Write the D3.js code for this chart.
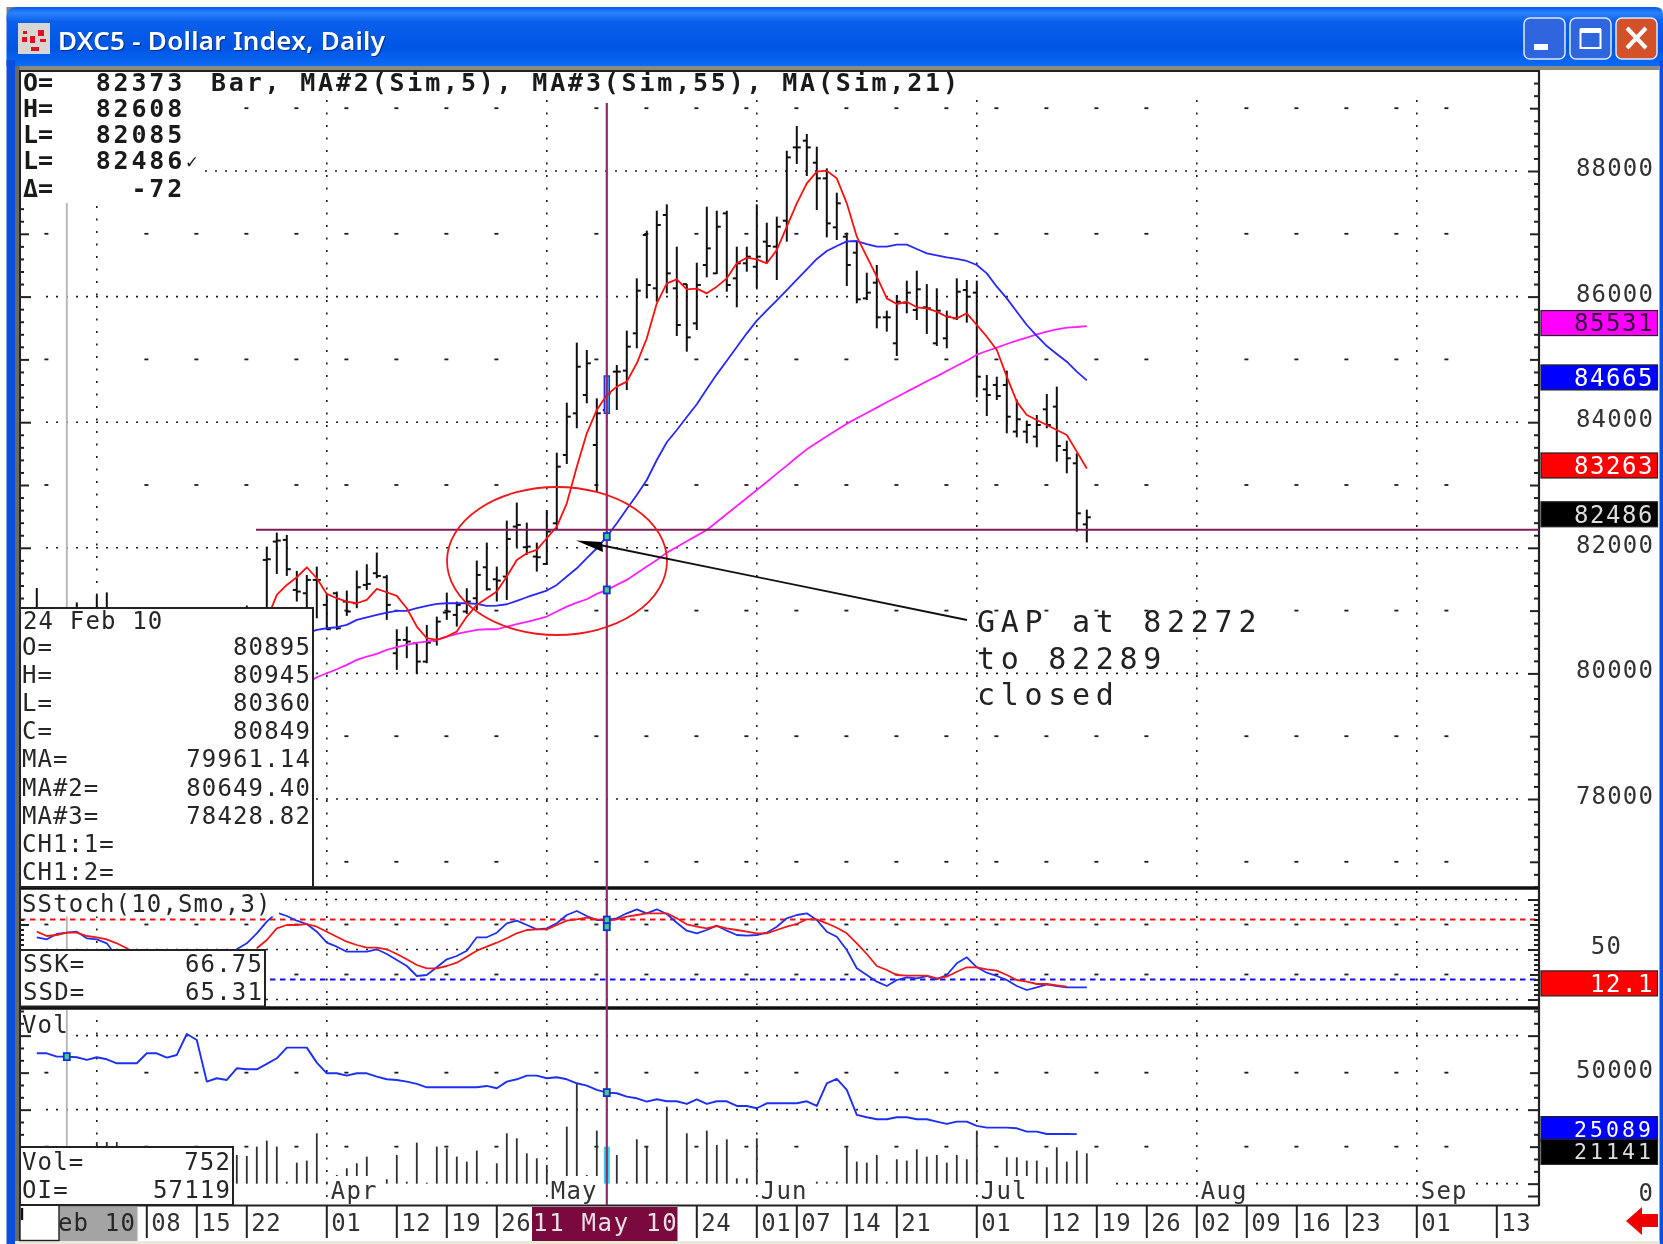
<!DOCTYPE html>
<html>
<head>
<meta charset="utf-8">
<title>DXC5 - Dollar Index, Daily</title>
<script src="https://cdn.jsdelivr.net/npm/d3@7"></script>
<style>
	html, body { margin: 0; padding: 0; background: #fff; }
	svg { display: block; filter: blur(0.45px); }
</style>
</head>
<body>
<div id="chart"></div>
<script>
// bars are numbered by trading day, day 0 is the first one on screen
var earlyDays = [0, 4, 6, 7, 21];
var earlyHigh = [81360, 81130, 81250, 81290, 81080];
var earlyLow = [80800, 80800, 80800, 80800, 80800];

// the rest of the bars start at day 23
var firstBarDay = 23;
var barHigh = [82019, 82242, 82205, 81632, 81568, 81701, 81276, 81303, 81319, 81637, 81738, 81924, 81568, 80703, 80746, 80480, 80772, 80905, 81287, 81144, 81356, 81797, 82083, 81701, 82433, 82720, 82401, 82083,
	82602, 83515, 84311, 85267, 85150, 84380, 84736, 84911, 85458, 86291, 87050, 87368, 87469, 86795, 86199, 86540, 87432, 87368, 87368, 86795, 86795, 87469, 87177, 87273, 88323, 88716, 88589, 88387, 88042, 87655, 87018, 86875, 86381, 86503, 85776, 86025, 86254, 86413, 86199, 86132, 85776, 86291, 86264, 86254, 84752, 84725, 84821, 84364, 84025, 84115, 84449, 84566, 83706, 83505, 82608];
var barLow = [80852, 81584, 81552, 81144, 80958, 80878, 80693, 80693, 80916, 81038, 81329, 81515, 80852, 80056, 80242, 79992, 80162, 80443, 80852, 80746, 80947, 81011, 81319, 81144, 81170, 82009, 81887, 81621,
	81727, 82284, 83335, 83903, 84301, 82894, 84141, 84195, 84513, 85176, 85972, 85919, 86052, 85373, 85123, 85468, 86307, 86360, 86078, 85829, 86397, 86132, 86530, 86264, 86875, 88111, 87920, 87379, 86943, 86901, 86169, 85893, 85946, 85495, 85442, 85054, 85734, 85627, 85405, 85214, 85176, 85627, 85585, 84396, 84099, 84354, 83823, 83759, 83664, 83600, 83903, 83372, 83186, 82257, 82085];
var barOpen = [81807, 82099, 82126, 81329, 81276, 81489, 81091, 81276, 81144, 81117, 81409, 81595, 81531, 80321, 80533, 80480, 80188, 80523, 80969, 80931, 80985, 81197, 81690, 81499, 81542, 82338, 82009, 81860,
	81743, 82390, 83478, 84141, 84433, 83637, 84195, 84805, 84821, 85415, 86981, 86132, 87299, 86132, 86199, 85574, 86503, 86370, 87326, 86291, 86530, 86476, 86875, 86795, 87209, 88376, 88483, 88132, 87883, 87103, 86954, 86699, 85972, 86222, 85670, 85256, 85903, 85787, 85829, 85256, 85336, 85654, 86105, 86063, 84524, 84593, 84593, 83850, 83850, 83770, 84205, 84248, 83558, 83345, 82373];
var barClose = [81818, 82115, 81659, 81303, 81489, 81489, 80703, 80719, 80985, 81372, 81425, 81552, 81091, 80533, 80507, 80188, 80491, 80825, 80985, 81091, 81144, 81568, 81340, 81478, 82141, 82364, 82019, 81850,
	82258, 83292, 84088, 84884, 84938, 84141, 84460, 84805, 85203, 86094, 86185, 87140, 86370, 85548, 85351, 86185, 86768, 87113, 86185, 86530, 86636, 86636, 86806, 87113, 88217, 88376, 88376, 87883, 87166, 87485, 86503, 85956, 86063, 85670, 85670, 85919, 86063, 86116, 85813, 85776, 85680, 86078, 85999, 84725, 84433, 84417, 84088, 84046, 83956, 83956, 83956, 83621, 83425, 82549, 82486];

var ma5 = [80852, 81250, 81409, 81531, 81690, 81515, 81266, 81197, 81144, 81117, 81170, 81345, 81292, 81234, 81038, 80746, 80560, 80533, 80587, 80666, 80905, 81091, 81197, 81303, 81542, 81807, 81913, 81966, 82152, 82338,
	82709, 83292, 83823, 84195, 84433, 84566, 84646, 84938, 85336, 85893, 86211, 86275, 86116, 86126, 86052, 86158, 86291, 86530, 86620, 86593, 86530, 86742, 87113, 87485, 87803, 87989, 88005, 87883, 87485, 86954, 86636, 86317, 85972, 85882, 85919, 85829, 85813, 85760, 85680, 85654, 85734, 85548, 85362, 85150, 84725, 84327, 84115, 84035, 83956, 83876, 83797, 83531, 83263];

var firstMaDay = 27;
var ma21 = [80640, 80693, 80719, 80735, 80772, 80852, 80894, 80931, 80969, 80995, 80995, 81038, 81075, 81107, 81117, 81117, 81117, 81107, 81075, 81080, 81101, 81154, 81213, 81266, 81319, 81409, 81542, 81674, 81834, 81993, 82179,
	82390, 82618, 82841, 83080, 83398, 83680, 83876, 84083, 84285, 84529, 84762, 84980, 85198, 85415, 85617, 85781, 85941, 86105, 86270, 86434, 86599, 86726, 86806, 86880, 86885, 86837, 86795, 86795, 86827, 86827, 86758, 86689, 86657, 86625, 86599, 86567, 86503, 86370, 86158, 85972, 85760, 85548, 85373, 85213, 85086, 84964, 84805, 84665];
var ma55 = [79844, 79939, 80003, 80066, 80135, 80215, 80268, 80311, 80374, 80417, 80454, 80491, 80507, 80533, 80587, 80629, 80661, 80693, 80703, 80703, 80746, 80783, 80820, 80862, 80905, 80985, 81064, 81128, 81181, 81266, 81329, 81409, 81489, 81595, 81701, 81807,
	81923, 82013, 82104, 82194, 82284, 82411, 82539, 82666, 82793, 82921, 83048, 83181, 83308, 83441, 83568, 83674, 83775, 83876, 83977, 84062, 84147, 84232, 84317, 84401, 84486, 84566, 84651, 84730, 84815, 84900, 84980, 85075, 85134, 85187, 85245, 85298, 85346, 85399, 85442, 85479, 85505, 85516, 85531];

// null where the reading box hides the line
var stochK = [62.2, 60.2, 65.5, 66.8, 67.8, 61.2, 60.2, 56.2, 42.8, null, null, null, null, null, null, null, null, null, null, null, 50.2, 56.2, 66.2, 77.8, 86.8, 83.5, 78.8, 75.5, 67.8, 56.8, 52.8, 47.8, 47.8, 47.8, 50.2, 45.5, 39.5, 33.5, 23.5, 24.5, 32.2, 40.2, 43.5, 48.8, 62.2, 62.2, 66.8, 76.2, 78.8, 74.5, 70.2, 71.2,
	76.2, 84.5, 88.5, 83.5, 79.5, 79.5, 81.2, 86.2, 90.2, 86.2, 90.2, 85.5, 76.8, 68.8, 66.2, 69.5, 73.8, 68.8, 64.5, 63.8, 64.5, 66.8, 72.8, 81.2, 84.5, 86.2, 79.5, 67.8, 62.8, 49.5, 31.2, 24.5, 17.8, 13.5, 19.5, 22.2, 21.2, 23.5, 20.2, 24.5, 36.2, 42.2, 32.2, 26.8, 23.5, 19.5, 13.5, 9.5, 12.2, 15.2, 13.5, 12.2, 12.2, 12.1];
var stochD = [67.8, 63.5, 64.5, 66.8, 66.8, 63.5, 62.2, 60.2, 56.2, 51.2, 44.5, null, null, null, null, null, null, null, null, null, null, null, 51.2, 59.5, 71.2, 74.5, 74.5, 75.5, 72.8, 67.8, 62.8, 57.8, 54.5, 51.8, 51.8, 50.2, 45.5, 40.2, 34.5, 31.2, 31.2, 33.5, 36.8, 42.8, 48.8, 52.8, 56.8, 61.2, 66.2, 69.5, 70.2, 70.2,
	74.5, 78.8, 80.2, 81.8, 80.2, 78.8, 80.2, 82.8, 84.5, 86.2, 86.2, 86.2, 81.2, 75.2, 72.8, 71.2, 73.5, 71.2, 69.5, 67.8, 66.2, 66.2, 69.5, 72.8, 75.5, 80.2, 80.2, 76.2, 71.8, 66.2, 56.2, 45.5, 33.5, 29.5, 24.5, 23.8, 23.8, 23.8, 21.2, 22.8, 27.8, 32.2, 32.2, 30.2, 28.8, 24.5, 19.5, 17.8, 15.5, 15.5, 14.2, 12.8];

var volMa = [57850, 57850, 56500, 56500, 56230, 55150, 56230, 55420, 53800, 53800, 53800, 57850, 57850, 56090, 57170, 65680, 63250, 46360, 47720, 47040, 51770, 51360, 51360, 53530, 55820, 60150, 60150, 60150, 54070, 49740, 49740, 48790, 49740, 49740, 48390, 47310, 47040, 46360, 45420, 44070, 44070, 44070, 44070, 44070, 44070, 44610, 43660, 46360, 47310, 48790, 48790, 47720,
	48120, 47310, 45690, 44740, 42990, 41910, 41640, 40290, 39610, 38260, 39200, 38390, 38390, 37310, 39200, 37310, 38390, 38390, 36500, 36500, 35560, 37580, 37580, 37580, 37580, 38390, 36500, 45690, 47450, 42990, 32860, 31910, 31100, 31100, 31910, 31910, 31100, 31100, 30150, 29210, 30150, 30150, 28400, 27720, 27720, 27720, 27450, 26100, 26100, 25150, 25150, 25150, 25089];

var volEarlyDays = [6, 7, 8];
var volEarly = [21900, 21900, 21900];
// from day 20, null where no bar shows
var firstVolDay = 20;
var volBars = [16640, 16240, 20020, 22450, 20020, 5830, 13530, 14350, 25420, 5830, 8540, 11240, 13270, 15970, 5830, 6780, 16640, 5830, 21640, 5430, 20020, 19340, 15970, 13940, 18400, 5830, 13270, 25420, 23400, 17320, 15290, 12590,
	5830, 28130, 45690, 8540, 26500, 20020, 16640, 5830, 22990, 20290, 5830, 36230, 5830, 25420, 5830, 26500, 20700, 22990, 7180, 7180, 23400, null, null, null, null, null, 5830, 5830, 5830, 19750, 13940, 13530, 16640, 5830, 14890, 14350, 18940, 15970, 16640, 13530, 16640, 14890, 26500, null, null, 15700, 15700, 14350, 14350, 11640, 19750, 13940, 18400, 17320];
var volFloor = 5000;
var selectedDay = 57;
var cursorDay = 3;
var gapTop = 82289;

var priceLabels = [88000, 86000, 84000, 82000, 80000, 78000];
var priceHalfRows = [89000, 87000, 85000, 83000, 81000, 79000, 77000];
var priceBadges = [85531, 84665, 83263, 82486];
var priceBadgeFill = ['#ff00ff', '#0000ff', '#ff0000', '#000000'];
var priceBadgeText = ['#30003a', '#ffffff', '#ffffff', '#dddddd'];

var stochGrid = [0, 50, 100];
var stochRows = [25, 75];
var volGrid = [5000, 35000, 65000];
var volRows = [20000, 50000];

var monthDays = [6, 29, 51, 72, 94, 116, 138];
var monthLabels = ['', 'Apr', 'May', 'Jun', 'Jul', 'Aug', 'Sep'];
var dateDays = [11, 16, 21, 29, 36, 41, 46, 66, 72, 76, 81, 86, 94, 101, 106, 111, 116, 121, 126, 131, 138, 146];
var dateLabels = ['08', '15', '22', '01', '12', '19', '26', '24', '01', '07', '14', '21', '01', '12', '19', '26', '02', '09', '16', '23', '01', '13'];

var headLabels = ['O=', 'H=', 'L=', 'L=', '\u0394='];
var headValues = ['82373', '82608', '82085', '82486', '-72'];
var boxLabels = ['O=', 'H=', 'L=', 'C=', 'MA=', 'MA#2=', 'MA#3=', 'CH1:1=', 'CH1:2='];
var boxValues = ['80895', '80945', '80360', '80849', '79961.14', '80649.40', '78428.82', '', ''];

var FONT = '"DejaVu Sans Mono", monospace';
var INK = '#1c1c1c';

var svg;
var x = d3.scaleLinear().domain([0, 146]).range([36.8, 1496.8]);
var priceY = d3.scaleLinear().domain([78000, 88000]).range([799, 171]);
var stochY = d3.scaleLinear().domain([0, 100]).range([999.5, 899.5]);
var volY = d3.scaleLinear().domain([0, 50000]).range([1196, 1072.65]);

function text(parent, px, py, str, size, opt) {
	opt = opt || {};
	var t = parent.append('text')
		.attr('x', px)
		.attr('y', py)
		.attr('font-family', opt.family || FONT)
		.attr('font-size', size)
		.attr('font-weight', opt.weight || 400)
		.attr('fill', opt.fill || '#262626')
		.attr('text-anchor', opt.anchor || 'start')
		.style('letter-spacing', (opt.spacing === undefined ? 1.15 : opt.spacing) + 'px')
		.text(str);
	if (opt.length) {
		t.attr('textLength', opt.length);
	}
	return t;
}

function hLine(parent, y, x0, x1, color, width, dash) {
	parent.append('line')
		.attr('x1', x0).attr('x2', x1)
		.attr('y1', y).attr('y2', y)
		.attr('stroke', color)
		.attr('stroke-width', width)
		.attr('stroke-dasharray', dash || null);
}

function vLine(parent, px, y0, y1, color, width, dash) {
	parent.append('line')
		.attr('x1', px).attr('x2', px)
		.attr('y1', y0).attr('y2', y1)
		.attr('stroke', color)
		.attr('stroke-width', width)
		.attr('stroke-dasharray', dash || null);
}

function drawWindow() {
	var defs = svg.append('defs');
	var g = defs.append('linearGradient').attr('id', 'titleBar').attr('x1', 0).attr('x2', 0).attr('y1', 0).attr('y2', 1);
	g.append('stop').attr('offset', '0').attr('stop-color', '#0a5ae6');
	g.append('stop').attr('offset', '0.1').attr('stop-color', '#2a83fb');
	g.append('stop').attr('offset', '0.25').attr('stop-color', '#0a60ec');
	g.append('stop').attr('offset', '0.7').attr('stop-color', '#0054e3');
	g.append('stop').attr('offset', '1').attr('stop-color', '#0a6cf6');

	svg.append('rect').attr('width', 1663).attr('height', 1244).attr('fill', '#fff');
	svg.append('rect').attr('x', 6.5).attr('y', 7).attr('width', 12).attr('height', 14).attr('fill', '#808080');
	svg.append('path')
		.attr('d', 'M6.5,66 V18 Q6.5,7 18,7 H1655 Q1663,7 1663,14 V66 Z')
		.attr('fill', 'url(#titleBar)');
	svg.append('rect').attr('x', 6.5).attr('y', 60).attr('width', 8.5).attr('height', 1184).attr('fill', '#0a50dc');
	svg.append('rect').attr('x', 1659.5).attr('y', 60).attr('width', 3.5).attr('height', 1184).attr('fill', '#0a50dc');
	svg.append('rect').attr('x', 15).attr('y', 66).attr('width', 1644.5).attr('height', 4).attr('fill', '#8a8a80');
	svg.append('rect').attr('x', 15).attr('y', 66).attr('width', 4.5).attr('height', 1178).attr('fill', '#6a6a62');
	svg.append('rect').attr('x', 15).attr('y', 1241).attr('width', 1644.5).attr('height', 3).attr('fill', '#ece9d8');

	// icon
	svg.append('rect').attr('x', 18).attr('y', 23).attr('width', 32).attr('height', 31).attr('fill', '#d8d6d2');
	[[22, 37, 5, 5], [30, 36, 5, 7], [38, 30, 6, 6], [31, 47, 8, 4], [40, 39, 6, 3], [23, 31, 4, 3]].forEach(function (r) {
		svg.append('rect').attr('x', r[0]).attr('y', r[1]).attr('width', r[2]).attr('height', r[3]).attr('fill', '#e01020');
	});

	// the shadow is drawn as a path-less second copy under the title, hidden from the text layer by aria
	var titleOpt = { family: '"Noto Sans", sans-serif', weight: 600, spacing: 0, length: 327, fill: '#ffffff' };
	text(svg, 58, 50, 'DXC5 - Dollar Index, Daily', 26, titleOpt)
		.style('paint-order', 'normal')
		.style('filter', 'drop-shadow(1.5px 1.5px 0 #00308a)');

	// caption buttons
	[[1524, '#2f66e0'], [1570, '#2f66e0'], [1616, '#d2512b']].forEach(function (b) {
		svg.append('rect')
			.attr('x', b[0]).attr('y', 18)
			.attr('width', 41).attr('height', 41).attr('rx', 6)
			.attr('fill', b[1])
			.attr('stroke', '#dfe8fb').attr('stroke-width', 1.5);
	});
	svg.append('rect').attr('x', 1534).attr('y', 44).attr('width', 14).attr('height', 6).attr('fill', '#fff');
	svg.append('rect').attr('x', 1580.5).attr('y', 30).attr('width', 20).attr('height', 18)
		.attr('fill', 'none').attr('stroke', '#fff').attr('stroke-width', 2);
	svg.append('rect').attr('x', 1580).attr('y', 28).attr('width', 21).attr('height', 5).attr('fill', '#fff');
	svg.append('path').attr('d', 'M1627,28 L1646,48 M1646,28 L1627,48')
		.attr('stroke', '#fff').attr('stroke-width', 4).attr('fill', 'none');
}

function drawGrid() {
	var g = svg.append('g');
	var weekDays = d3.range(1, 146, 5).filter(function (d) { return monthDays.indexOf(d) < 0; });

	// dotted rows, some start late because a label sits in front
	priceLabels.forEach(function (v) {
		hLine(g, priceY(v), v === 88000 ? 205 : 46, 1520, INK, 1.6, '2 8');
	});
	stochGrid.forEach(function (v) {
		hLine(g, stochY(v), v === 100 ? 285 : 46, 1520, INK, 1.6, '2 8');
	});
	hLine(g, volY(65000), 76, 1520, INK, 1.6, '2 8');
	hLine(g, volY(35000), 46, 1520, INK, 1.6, '2 8');
	hLine(g, volY(5000), 1116, 1520, INK, 1.6, '2 8');

	// weekly dashes
	function rows(scale, values) {
		values.forEach(function (v) {
			weekDays.forEach(function (d) {
				if (v === 89000 && x(d) < 205) {
					return;
				}
				hLine(g, scale(v), x(d) - 2.4, x(d) + 1.6, INK, 1.8);
			});
		});
	}
	rows(priceY, priceHalfRows);
	rows(stochY, stochRows);
	rows(volY, volRows);

	// month columns
	monthDays.forEach(function (d, i) {
		vLine(g, x(d), i === 0 ? 206 : 100, 886, INK, 1.6, '2 10.5');
		vLine(g, x(d), 891, 1005, INK, 1.6, '2 10.5');
		vLine(g, x(d), 1020, 1204, INK, 1.6, '2 10.5');
	});

	// dashed stoch levels
	hLine(g, stochY(80), 20, 1539, '#f01010', 1.8, '5.5 4.5');
	hLine(g, stochY(20), 20, 1539, '#1010f0', 1.8, '5.5 4.5');

	// cursor of the reading box
	vLine(g, x(cursorDay), 203, 608, '#b4b4b4', 1.8);
	vLine(g, x(cursorDay), 890, 1006, '#b4b4b4', 1.8);
	vLine(g, x(cursorDay), 1010, 1147, '#b4b4b4', 1.8);
}

function drawBars() {
	var g = svg.append('g')
		.attr('stroke', '#101010')
		.attr('stroke-width', 2);
	var bars = [];

	earlyDays.forEach(function (d, i) {
		bars.push({ day: d, h: earlyHigh[i], l: earlyLow[i], o: earlyLow[i], c: earlyLow[i] });
	});
	barHigh.forEach(function (h, i) {
		bars.push({ day: firstBarDay + i, h: h, l: barLow[i], o: barOpen[i], c: barClose[i] });
	});

	var sel = g.selectAll('g').data(bars).enter().append('g');
	sel.append('line')
		.attr('x1', function (b) { return x(b.day); })
		.attr('x2', function (b) { return x(b.day); })
		.attr('y1', function (b) { return priceY(b.h); })
		.attr('y2', function (b) { return priceY(b.l); });
	sel.append('line')
		.attr('x1', function (b) { return x(b.day) - 4; })
		.attr('x2', function (b) { return x(b.day); })
		.attr('y1', function (b) { return priceY(b.o); })
		.attr('y2', function (b) { return priceY(b.o); });
	sel.append('line')
		.attr('x1', function (b) { return x(b.day); })
		.attr('x2', function (b) { return x(b.day) + 4; })
		.attr('y1', function (b) { return priceY(b.c); })
		.attr('y2', function (b) { return priceY(b.c); });

	// selected bar
	var i = selectedDay - firstBarDay;
	svg.append('rect')
		.attr('x', x(selectedDay) - 2.5)
		.attr('y', priceY(barHigh[i]))
		.attr('width', 5)
		.attr('height', priceY(barLow[i]) - priceY(barHigh[i]))
		.attr('fill', '#59c8f0')
		.attr('stroke', '#1c30e8')
		.attr('stroke-width', 1.4);
}

function drawLine(values, startDay, scale, color, width) {
	var line = d3.line()
		.defined(function (v) { return v !== null; })
		.x(function (v, i) { return x(startDay + i); })
		.y(function (v) { return scale(v); });
	svg.append('path')
		.attr('d', line(values))
		.attr('fill', 'none')
		.attr('stroke', color)
		.attr('stroke-width', width)
		.attr('stroke-linejoin', 'round');
}

function marker(px, py) {
	svg.append('rect')
		.attr('x', px - 3).attr('y', py - 3.5)
		.attr('width', 6).attr('height', 7)
		.attr('fill', '#40d080')
		.attr('stroke', '#1030e0')
		.attr('stroke-width', 1.8);
}

function drawVolume() {
	var g = svg.append('g').attr('stroke', '#303030').attr('stroke-width', 1.8);
	var bars = [];

	volEarlyDays.forEach(function (d, i) {
		bars.push({ day: d, v: volEarly[i] });
	});
	volBars.forEach(function (v, i) {
		if (v !== null) {
			bars.push({ day: firstVolDay + i, v: v });
		}
	});

	g.selectAll('line').data(bars).enter().append('line')
		.attr('x1', function (b) { return x(b.day); })
		.attr('x2', function (b) { return x(b.day); })
		.attr('y1', function (b) { return volY(b.v); })
		.attr('y2', volY(volFloor))
		.attr('stroke', function (b) { return b.day === selectedDay ? '#30d8ea' : null; })
		.attr('stroke-width', function (b) { return b.day === selectedDay ? 6 : null; });
}

function drawAnnotation() {
	hLine(svg, priceY(gapTop), 256, 1539, '#7b1d55', 2);
	vLine(svg, x(selectedDay), 103, 1205, '#8c2c6c', 2.2);

	svg.append('ellipse')
		.attr('cx', 557).attr('cy', 561)
		.attr('rx', 110).attr('ry', 74)
		.attr('fill', 'none')
		.attr('stroke', '#f01818')
		.attr('stroke-width', 1.8);

	svg.append('line')
		.attr('x1', 600).attr('y1', 545)
		.attr('x2', 967).attr('y2', 620)
		.attr('stroke', '#111')
		.attr('stroke-width', 1.8);
	svg.append('path')
		.attr('d', 'M576,540.5 L603,552 L602,542 Z')
		.attr('fill', '#000');

	['GAP at 82272', 'to 82289', 'closed'].forEach(function (s, i) {
		text(svg, 977, 632 + i * 36.5, s, 30, { spacing: 5.7, fill: '#222' })
			.attr('transform', 'translate(0,0)');
	});

	// markers on the selected day
	var m = selectedDay - firstMaDay;
	marker(x(selectedDay), priceY(ma21[m]));
	marker(x(selectedDay), priceY(ma55[m]));
	marker(x(selectedDay), stochY(stochK[selectedDay]));
	marker(x(selectedDay), stochY(stochD[selectedDay]) + 6);
	marker(x(selectedDay), volY(volMa[selectedDay]));
	marker(x(cursorDay), volY(volMa[cursorDay]));
}

function drawAxes() {
	function ticks(g, values, major, mid, bigLen, midLen, smallLen) {
		g.selectAll('.tick line')
			.attr('stroke', '#222')
			.attr('stroke-width', 2)
			.attr('x2', function (d) {
				var sign = +d3.select(this).attr('x2') < 0 ? -1 : 1;
				if (major.indexOf(d) >= 0) {
					return sign * bigLen;
				}
				return sign * (mid.indexOf(d) >= 0 ? midLen : smallLen);
			});
		g.selectAll('.domain').remove();
	}

	var panels = [
		{ scale: priceY, values: d3.range(76600, 89800, 200), major: priceLabels, mid: priceHalfRows },
		{ scale: stochY, values: d3.range(0, 105, 5), major: stochGrid, mid: stochRows },
		{ scale: volY, values: d3.range(0, 80000, 5000), major: volGrid.concat([0]), mid: volRows }
	];

	panels.forEach(function (p) {
		var left = svg.append('g')
			.attr('transform', 'translate(20,0)')
			.call(d3.axisRight(p.scale).tickValues(p.values).tickSize(4).tickFormat(''));
		ticks(left, p.values, p.major, p.mid, 11, 9, 4);
		var right = svg.append('g')
			.attr('transform', 'translate(1539,0)')
			.call(d3.axisLeft(p.scale).tickValues(p.values).tickSize(5).tickFormat(''));
		ticks(right, p.values, p.major, p.mid, 11, 9, 5);
	});

	// frame
	hLine(svg, 71, 19, 1539, '#222', 2);
	hLine(svg, 888, 19, 1539, '#111', 3.4);
	hLine(svg, 1008, 19, 1539, '#111', 3.4);
	hLine(svg, 1205.5, 19, 1539, '#222', 2);
	vLine(svg, 1539, 70, 1206, '#222', 2.2);
	vLine(svg, 20, 70, 1241, '#222', 2);
}

function badge(yMid, str, fill, color, size) {
	svg.append('rect')
		.attr('x', 1541).attr('y', yMid - 12.5)
		.attr('width', 116.5).attr('height', 25)
		.attr('fill', fill)
		.attr('stroke', '#222')
		.attr('stroke-width', 1.2);
	size = size || 24;
	text(svg, 1654, yMid + size * 0.35, str, size, { anchor: 'end', fill: color, spacing: 16 - size * 0.602 });
}

function drawRightLabels() {
	priceLabels.forEach(function (v) {
		text(svg, 1654, priceY(v) + 5, v, 24, { anchor: 'end', fill: '#333' });
	});
	text(svg, 1622, stochY(50) + 4, '50', 24, { anchor: 'end', fill: '#333' });
	text(svg, 1654, volY(50000) + 5, '50000', 24, { anchor: 'end', fill: '#333' });
	text(svg, 1654, volY(0) + 5, '0', 24, { anchor: 'end', fill: '#333' });

	priceBadges.forEach(function (v, i) {
		badge(priceY(v) - 3, v, priceBadgeFill[i], priceBadgeText[i]);
	});
	badge(stochY(12.1) - 4, '12.1', '#ff0000', '#ffffff');
	badge(volY(25089) - 5, '25089', '#0000ff', '#ffffff', 21.5);
	badge(volY(21141) + 8, '21141', '#000000', '#dddddd', 21.5);

	// scroll arrow
	svg.append('path')
		.attr('d', 'M1626,1221 L1642,1207 L1642,1214 L1658,1214 L1658,1227 L1642,1227 L1642,1235 Z')
		.attr('fill', '#ee0000');
}

function drawBoxes() {
	// heading of the main panel, it hides the grid behind
	svg.append('rect').attr('x', 21).attr('y', 72).attr('width', 184).attr('height', 130).attr('fill', '#fff');
	svg.append('rect').attr('x', 205).attr('y', 72).attr('width', 765).attr('height', 28).attr('fill', '#fff');
	headLabels.forEach(function (s, i) {
		var py = [91, 117, 143, 169, 197][i];
		text(svg, 23, py, s, 25, { weight: 700, fill: '#1a1a1a', spacing: 0 });
		text(svg, 185, py, headValues[i], 25, { weight: 700, fill: '#1a1a1a', spacing: 2.8, anchor: 'end' });
	});
	text(svg, 186, 168, '\u2713', 19, { weight: 700, fill: '#1a1a1a', spacing: 0 });
	text(svg, 211, 91, 'Bar, MA#2(Sim,5), MA#3(Sim,55), MA(Sim,21)', 25, { weight: 700, fill: '#1a1a1a', spacing: 2.8 });

	// reading box of the main panel
	svg.append('rect').attr('x', 20).attr('y', 608).attr('width', 293).attr('height', 279)
		.attr('fill', '#fff').attr('stroke', '#222').attr('stroke-width', 2);
	text(svg, 23, 629, '24 Feb 10', 24);
	boxLabels.forEach(function (s, i) {
		var py = 655 + i * 28.1;
		text(svg, 22, py, s, 24, { spacing: 1 });
		text(svg, 311, py, boxValues[i], 24, { anchor: 'end' });
	});

	// stoch box
	svg.append('rect').attr('x', 21).attr('y', 890.5).attr('width', 258).attr('height', 26).attr('fill', '#fff');
	text(svg, 22, 912, 'SStoch(10,Smo,3)', 24);
	svg.append('rect').attr('x', 20).attr('y', 950).attr('width', 245).attr('height', 56.5)
		.attr('fill', '#fff').attr('stroke', '#222').attr('stroke-width', 2);
	text(svg, 23, 971.5, 'SSK=', 24);
	text(svg, 23, 1000, 'SSD=', 24);
	text(svg, 263, 971.5, '66.75', 24, { anchor: 'end' });
	text(svg, 263, 1000, '65.31', 24, { anchor: 'end' });

	// volume box
	text(svg, 22, 1032.5, 'Vol', 24);
	svg.append('rect').attr('x', 20).attr('y', 1147).attr('width', 213).attr('height', 58)
		.attr('fill', '#fff').attr('stroke', '#222').attr('stroke-width', 2);
	text(svg, 22, 1170, 'Vol=', 24);
	text(svg, 22, 1198, 'OI=', 24);
	text(svg, 231, 1170, '752', 24, { anchor: 'end' });
	text(svg, 231, 1198, '57119', 24, { anchor: 'end' });
}

function drawDates() {
	var g = svg.append('g');

	monthDays.forEach(function (d, i) {
		if (monthLabels[i]) {
			g.append('rect').attr('x', x(d) + 2).attr('y', 1176).attr('width', 50).attr('height', 27).attr('fill', '#fff');
			text(g, x(d) + 4, 1199, monthLabels[i], 24, { fill: '#333' });
		}
	});

	dateDays.forEach(function (d, i) {
		vLine(g, x(d), 1205, 1238, '#222', 2);
		text(g, x(d) + 4.5, 1231, dateLabels[i], 24, { fill: '#333', spacing: 0.4 });
	});

	// current day at the left, then the white handle over it
	svg.append('rect').attr('x', 22).attr('y', 1207).attr('width', 115.5).attr('height', 34).attr('fill', '#a4a4a4');
	text(svg, 136, 1231, 'Feb 10', 24, { anchor: 'end' });
	svg.append('rect').attr('x', 20).attr('y', 1202.5).attr('width', 39).attr('height', 38)
		.attr('fill', '#fff').attr('stroke', '#222').attr('stroke-width', 1.4);
	vLine(svg, 22, 1208, 1220, '#111', 2.4);

	svg.append('rect').attr('x', 532).attr('y', 1207).attr('width', 145.5).attr('height', 34).attr('fill', '#7a0a3e');
	text(svg, 533, 1231, '11 May 10', 24, { fill: '#e8e0e4', spacing: 1.7 });
}

function init(element) {
	svg = d3.select(element)
		.append('svg')
		.attr('width', 1663)
		.attr('height', 1244);

	drawWindow();
	drawGrid();
	drawAxes();
	drawVolume();
	drawBars();
	drawLine(ma55, firstMaDay, priceY, '#ff20ff', 1.8);
	drawLine(ma21, firstMaDay, priceY, '#2828ff', 1.8);
	drawLine(ma5, firstBarDay, priceY, '#ff1010', 1.8);
	drawLine(stochK, 0, stochY, '#2030f0', 1.8);
	drawLine(stochD, 0, stochY, '#f01818', 1.8);
	drawLine(volMa, 0, volY, '#1c30f0', 1.9);
	drawAnnotation();
	drawDates();
	drawBoxes();
	drawRightLabels();
}

init('#chart');
</script>
</body>
</html>
